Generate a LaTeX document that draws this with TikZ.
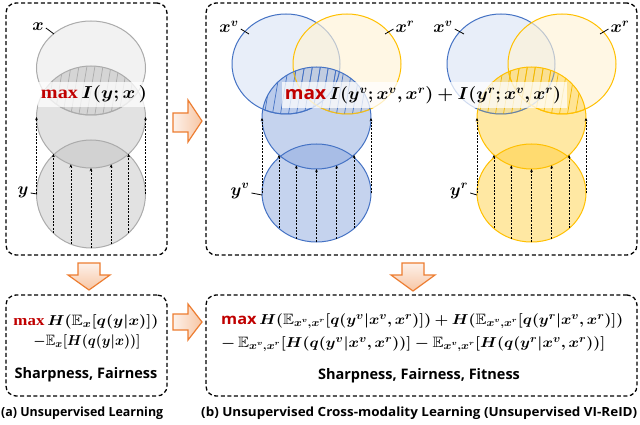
\documentclass[tikz,border=0pt]{standalone}
\usepackage{fontspec}
\setmainfont{Liberation Serif}
\setsansfont{Open Sans}
\usepackage{amssymb,bm,graphicx}
\usetikzlibrary{arrows.meta}
\definecolor{bstroke}{HTML}{4472C4}
\definecolor{ystroke}{HTML}{FFC000}
\definecolor{gstroke}{HTML}{ABABAB}
\definecolor{bxv}{HTML}{E8EEF9}
\definecolor{yxr}{HTML}{FFF3D6}
\definecolor{gx}{HTML}{F2F2F2}
\definecolor{bbase}{HTML}{8DA9DF}
\definecolor{ybase}{HTML}{FFCD33}
\definecolor{gbase}{HTML}{BFBFBF}
\definecolor{yhatch}{HTML}{F2B800}
\definecolor{orng}{HTML}{ED7D31}
\definecolor{peachA}{HTML}{FDF1EA}
\definecolor{peachB}{HTML}{F7C6A4}
\definecolor{maxred}{HTML}{C00000}
\tikzset{
  dbox/.style={draw=black, line width=1.3pt, dash pattern=on 4pt off 2.6pt, rounded corners=10pt, inner sep=0pt},
  dasharrow/.style={draw=black, line width=0.6pt, dash pattern=on 2pt off 1.3pt, -{Stealth[length=3.2pt,width=2.8pt]}},
  tickline/.style={draw=black, line width=0.8pt},
  lbl/.style={inner sep=0pt, font=\fontsize{17}{19}\selectfont},
  blockarrow/.style={draw=orng, line width=1.2pt, line join=miter},
  whiteband/.style={fill=white, fill opacity=0.75},
  captext/.style={inner sep=0pt, font=\sffamily\bfseries\fontsize{12.6}{15}\selectfont},
  keytext/.style={inner sep=0pt, font=\sffamily\bfseries\fontsize{14.5}{16}\selectfont},
  formula/.style={inner sep=0pt, font=\fontsize{15}{16}\selectfont},
}
\begin{document}
\begin{tikzpicture}[x=1pt,y=-1pt]
\useasboundingbox (0,0) rectangle (640,425);
\fill[white] (0,0) rectangle (640,425);

% ---------------- boxes ----------------
\node[dbox, minimum width=161pt, minimum height=252pt] (boxA) at (86.5,129) {};
\node[dbox, minimum width=431pt, minimum height=252pt] (boxB) at (421.5,129) {};
\node[dbox, minimum width=161pt, minimum height=101pt] (boxC) at (86.5,345.5) {};
\node[dbox, minimum width=431pt, minimum height=101pt] (boxD) at (421.5,345.5) {};

% ---------------- (a) venn ----------------
\fill[gx] (91,68) ellipse [x radius=54.5, y radius=47];
\draw[gstroke, line width=1pt] (91,68) ellipse [x radius=54.5, y radius=47];
\fill[gbase, fill opacity=0.45] (91,194) ellipse [x radius=54.5, y radius=54];
\fill[gbase, fill opacity=0.45] (91,117) ellipse [x radius=54.5, y radius=51];
\begin{scope}
  \clip (91,117) ellipse [x radius=54.5, y radius=51];
  \clip (91,68) ellipse [x radius=54.5, y radius=47];
  \fill[gbase, fill opacity=0.2] (30,60) rectangle (150,120);
  \foreach \k in {-8,...,8} \draw[gstroke, line width=0.7pt] ({91+\k*8-5},120) -- ({91+\k*8+5},60);
\end{scope}
\draw[gstroke, line width=1pt] (91,194) ellipse [x radius=54.5, y radius=54];
\draw[gstroke, line width=1pt] (91,117) ellipse [x radius=54.5, y radius=51];
\begin{scope}
  \clip (91,117) ellipse [x radius=54.5, y radius=51];
  \draw[gstroke, line width=1pt] (91,68) ellipse [x radius=54.5, y radius=47];
\end{scope}
\foreach \f in {-1,-0.69,-0.37,0,0.37,0.69,1}
  \draw[dasharrow] ({91+\f*54.5},{194+54*sqrt(max(0,1-(\f)*(\f)))}) -- ({91+\f*54.5},{117+51*sqrt(max(0,1-(\f)*(\f)))});
\fill[whiteband] (38,82) rectangle (146,107);
\node[inner sep=0pt, font=\fontsize{18}{20}\selectfont] (maxA) at (94,94) {\resizebox{106pt}{\height}{{\color{maxred}\textbf{max}}\,$\bm{I(y;x\,)}$}};
\node[lbl] (lx) at (38,27) {$\bm{x}$};
\coordinate (cx) at (54,34);
\draw[tickline] (lx.east) ++(2,1) -- (cx);
\node[lbl] (ly) at (23,192) {$\bm{y}$};
\coordinate (cy) at (37,194);
\draw[tickline] (ly.east) ++(2,1) -- (cy);

% ---------------- (b) left venn ----------------
\fill[bxv] (286,64) ellipse [x radius=54, y radius=50];
\draw[bstroke, line width=1pt] (286,64) ellipse [x radius=54, y radius=50];
\fill[yxr, fill opacity=0.65] (347,64) ellipse [x radius=54, y radius=50];
\draw[ystroke, line width=1pt] (347,64) ellipse [x radius=54, y radius=50];
\fill[bbase, fill opacity=0.5] (316.5,193) ellipse [x radius=54.5, y radius=49];
\fill[bbase, fill opacity=0.5] (316.5,118) ellipse [x radius=54.5, y radius=51];
\begin{scope}
  \clip (316.5,118) ellipse [x radius=54.5, y radius=51];
  \clip (286,64) ellipse [x radius=54, y radius=50];
  \foreach \k in {-9,...,9} \draw[bstroke, line width=0.7pt] ({316.5+\k*8-5},120) -- ({316.5+\k*8+5},60);
\end{scope}
\begin{scope}
  \clip (316.5,118) ellipse [x radius=54.5, y radius=51];
  \clip (347,64) ellipse [x radius=54, y radius=50];
  \foreach \k in {-9,...,9} \draw[bstroke, line width=0.7pt] ({316.5+\k*8-5},120) -- ({316.5+\k*8+5},60);
\end{scope}
\begin{scope}
  \clip (316.5,118) ellipse [x radius=54.5, y radius=51];
  \draw[bstroke, line width=1pt] (286,64) ellipse [x radius=54, y radius=50];
  \draw[ystroke, line width=1pt, draw opacity=0.8] (347,64) ellipse [x radius=54, y radius=50];
\end{scope}
\draw[bstroke, line width=1pt] (316.5,193) ellipse [x radius=54.5, y radius=49];
\draw[bstroke, line width=1pt] (316.5,118) ellipse [x radius=54.5, y radius=51];
\foreach \f in {-1,-0.69,-0.37,0,0.37,0.69,1}
  \draw[dasharrow] ({316.5+\f*54.5},{193+49*sqrt(max(0,1-(\f)*(\f)))}) -- ({316.5+\f*54.5},{118+51*sqrt(max(0,1-(\f)*(\f)))});

% ---------------- (b) right venn ----------------
\fill[bxv] (501,64) ellipse [x radius=54, y radius=50];
\draw[bstroke, line width=1pt] (501,64) ellipse [x radius=54, y radius=50];
\fill[yxr, fill opacity=0.65] (562,64) ellipse [x radius=54, y radius=50];
\draw[ystroke, line width=1pt] (562,64) ellipse [x radius=54, y radius=50];
\fill[ybase, fill opacity=0.45] (531.5,193) ellipse [x radius=54.5, y radius=49];
\fill[ybase, fill opacity=0.45] (531.5,118) ellipse [x radius=54.5, y radius=51];
\begin{scope}
  \clip (531.5,118) ellipse [x radius=54.5, y radius=51];
  \clip (501,64) ellipse [x radius=54, y radius=50];
  \foreach \k in {-9,...,9} \draw[yhatch, line width=0.7pt] ({531.5+\k*8-5},120) -- ({531.5+\k*8+5},60);
\end{scope}
\begin{scope}
  \clip (531.5,118) ellipse [x radius=54.5, y radius=51];
  \clip (562,64) ellipse [x radius=54, y radius=50];
  \foreach \k in {-9,...,9} \draw[yhatch, line width=0.7pt] ({531.5+\k*8-5},120) -- ({531.5+\k*8+5},60);
\end{scope}
\begin{scope}
  \clip (531.5,118) ellipse [x radius=54.5, y radius=51];
  \draw[bstroke, line width=1pt, draw opacity=0.6] (501,64) ellipse [x radius=54, y radius=50];
  \draw[ystroke, line width=1pt] (562,64) ellipse [x radius=54, y radius=50];
\end{scope}
\draw[ystroke, line width=1pt] (531.5,193) ellipse [x radius=54.5, y radius=49];
\draw[ystroke, line width=1pt] (531.5,118) ellipse [x radius=54.5, y radius=51];
\foreach \f in {-1,-0.69,-0.37,0,0.37,0.69,1}
  \draw[dasharrow] ({531.5+\f*54.5},{193+49*sqrt(max(0,1-(\f)*(\f)))}) -- ({531.5+\f*54.5},{118+51*sqrt(max(0,1-(\f)*(\f)))});

% band and label (b)
\fill[whiteband] (282,82) rectangle (567,108);
\node[inner sep=0pt, font=\fontsize{18}{20}\selectfont] (maxB) at (423,95) {\resizebox{276pt}{\height}{{\color{maxred}\sffamily\bfseries max}\,$\bm{I(y^v;x^v,x^r)+I(y^r;x^v,x^r)}$}};

% labels (b)
\node[lbl] (lxv1) at (229,27) {$\bm{x^v}$};
\coordinate (cxv1) at (249,34);
\draw[tickline] (lxv1.east) ++(2,2) -- (cxv1);
\node[lbl] (lxr1) at (405,27) {$\bm{x^r}$};
\coordinate (cxr1) at (385,34);
\draw[tickline] (lxr1.west) ++(-2,2) -- (cxr1);
\node[lbl] (lxv2) at (443,27) {$\bm{x^v}$};
\coordinate (cxv2) at (464,34);
\draw[tickline] (lxv2.east) ++(2,2) -- (cxv2);
\node[lbl] (lxr2) at (620,27) {$\bm{x^r}$};
\coordinate (cxr2) at (600,34);
\draw[tickline] (lxr2.west) ++(-2,2) -- (cxr2);
\node[lbl] (lyv) at (240,191) {$\bm{y^v}$};
\coordinate (cyv) at (262,195);
\draw[tickline] (lyv.east) ++(2,2) -- (cyv);
\node[lbl] (lyr) at (459,191) {$\bm{y^r}$};
\coordinate (cyr) at (477,195);
\draw[tickline] (lyr.east) ++(2,2) -- (cyr);

% ---------------- orange block arrows ----------------
\draw[blockarrow, left color=peachA, right color=peachB] (173,113) -- (188,113) -- (188,100) -- (202,121) -- (188,142) -- (188,132) -- (173,132) -- cycle;
\draw[blockarrow, left color=peachA, right color=peachB] (173,314) -- (188,314) -- (188,304) -- (202,322) -- (188,340) -- (188,330) -- (173,330) -- cycle;
\draw[blockarrow, top color=peachA, bottom color=peachB] (78,263) -- (100,263) -- (100,275) -- (110,275) -- (89,290) -- (68,275) -- (78,275) -- cycle;
\draw[blockarrow, top color=peachA, bottom color=peachB] (402,263) -- (424,263) -- (424,275) -- (435,275) -- (413,291) -- (391,275) -- (402,275) -- cycle;

% ---------------- lower texts ----------------
\node[formula] (fa1) at (86,322) {\resizebox{145pt}{\height}{{\color{maxred}\textbf{max}}\,$\bm{H(\mathbb{E}_x[q(y|x)])}$}};
\node[formula] (fa2) at (87,342) {\resizebox{107pt}{\height}{$\bm{-\mathbb{E}_x[H(q(y|x))]}$}};
\node[keytext] (sa) at (86,375) {Sharpness, Fairness};

\node[formula, anchor=west] (fb1) at (221,321) {\resizebox{402pt}{\height}{{\color{maxred}\sffamily\bfseries max}\,$\bm{H\big(\mathbb{E}_{x^v,x^r}[q(y^v|x^v,x^r)]\big)+H(\mathbb{E}_{x^v,x^r}[q(y^r|x^v,x^r)])}$}};
\node[formula, anchor=west] (fb2) at (221,344) {\resizebox{384pt}{\height}{$\bm{-\,\mathbb{E}_{x^v,x^r}\big[H\big(q(y^v|x^v,x^r)\big)\big]-\mathbb{E}_{x^v,x^r}\big[H\big(q(y^r|x^v,x^r)\big)\big]}$}};
\node[keytext] (sb) at (419,376) {Sharpness, Fairness, Fitness};

% captions
\node[captext, anchor=west] (capA) at (1,413) {\resizebox{162pt}{\height}{(a) Unsupervised Learning}};
\node[captext, anchor=west] (capB) at (201,413) {\resizebox{436pt}{\height}{(b) Unsupervised Cross-modality Learning (Unsupervised VI-ReID)}};
\end{tikzpicture}
\end{document}
